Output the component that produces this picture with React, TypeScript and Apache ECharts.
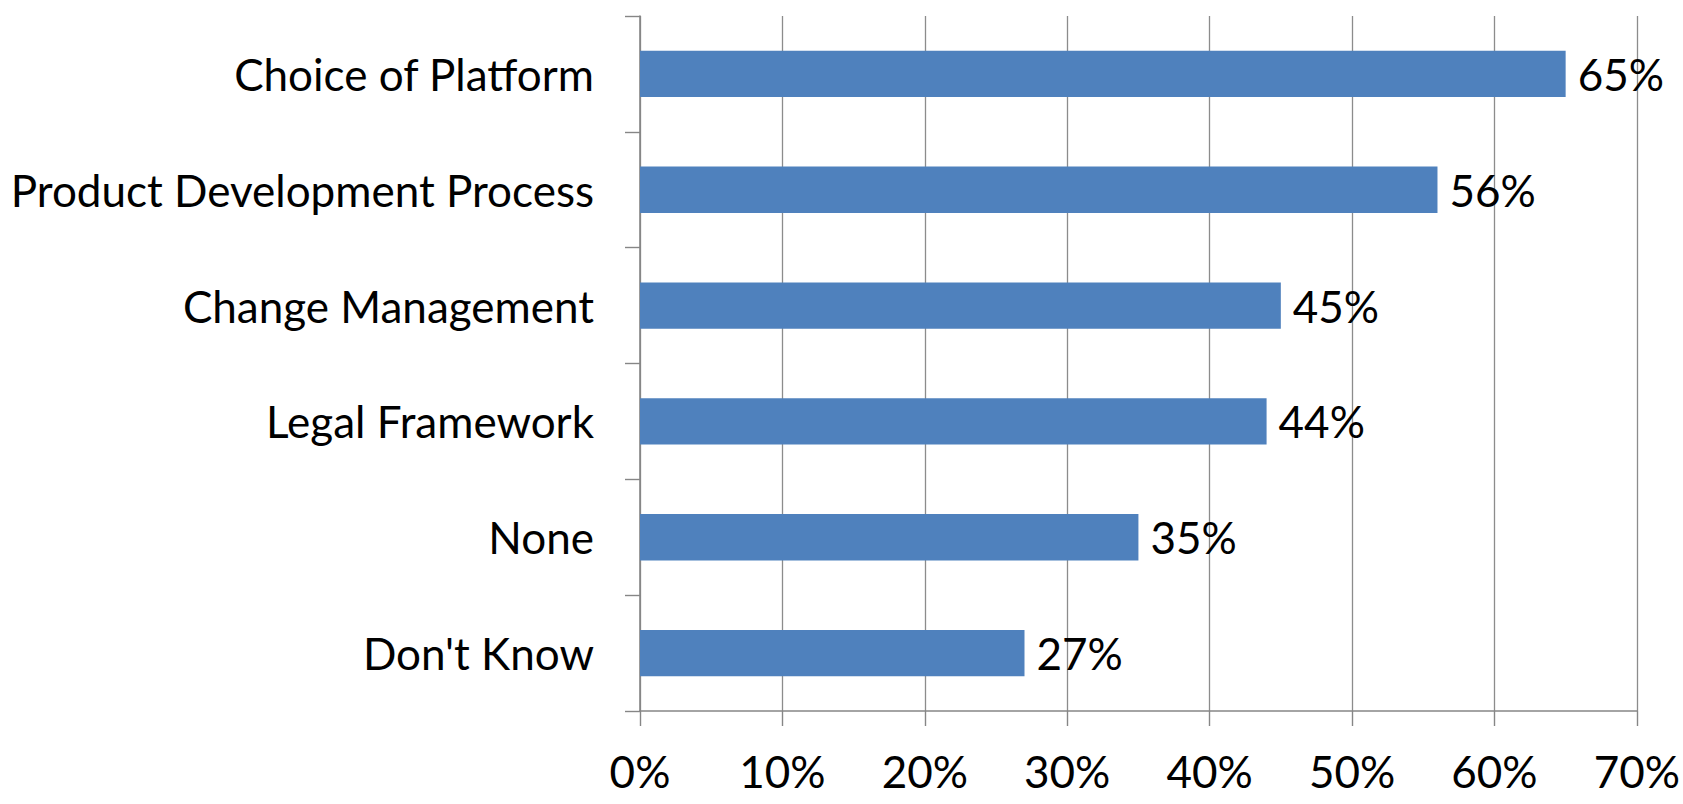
import React, { useEffect, useRef } from "react";
import * as echarts from "echarts";

const categories = [
  "Choice of Platform",
  "Product Development Process",
  "Change Management",
  "Legal Framework",
  "None",
  "Don't Know",
];
const values = [65, 56, 45, 44, 35, 27];
const xTicks = { min: 0, max: 70, interval: 10 };

const FONT = "Lato, 'Noto Sans', sans-serif";

export default function App() {
  const ref = useRef<HTMLDivElement>(null);
  useEffect(() => {
    document.body.style.margin = "0";
    const chart = echarts.init(ref.current!, undefined, { renderer: "svg" });
    chart.setOption({
      animation: false,
      backgroundColor: "#ffffff",
      grid: { left: 640, right: 45, top: 16, bottom: 93, containLabel: false },
      xAxis: {
        type: "value",
        min: xTicks.min,
        max: xTicks.max,
        interval: xTicks.interval,
        axisLine: { show: true, lineStyle: { color: "#868686", width: 1.6 } },
        axisTick: { show: true, length: 15, inside: false, lineStyle: { color: "#868686", width: 1.4 } },
        splitLine: { show: true, lineStyle: { color: "#8c8c8c", width: 1.3 } },
        axisLabel: {
          color: "#000",
          fontSize: 44,
          lineHeight: 44,
          fontFamily: FONT,
          margin: 38,
          formatter: (v: number) => `${v}%`,
        },
      },
      yAxis: {
        type: "category",
        data: categories,
        inverse: true,
        axisLine: { show: true, lineStyle: { color: "#868686", width: 1.6 } },
        axisTick: { show: true, length: 15, inside: false, lineStyle: { color: "#868686", width: 1.4 } },
        axisLabel: { color: "#000", fontSize: 44, fontFamily: FONT, margin: 46 },
      },
      series: [
        {
          type: "bar",
          data: values,
          barCategoryGap: "60%",
          itemStyle: { color: "#4F81BD" },
          label: {
            show: true,
            position: "right",
            distance: 12,
            color: "#000",
            fontSize: 44,
            fontFamily: FONT,
            formatter: (p: any) => `${p.value}%`,
          },
        },
      ],
    });
    return () => chart.dispose();
  }, []);
  return (
    <div
      ref={ref}
      style={{ position: "absolute", left: 0, top: 0, width: 1683, height: 804 }}
    />
  );
}
